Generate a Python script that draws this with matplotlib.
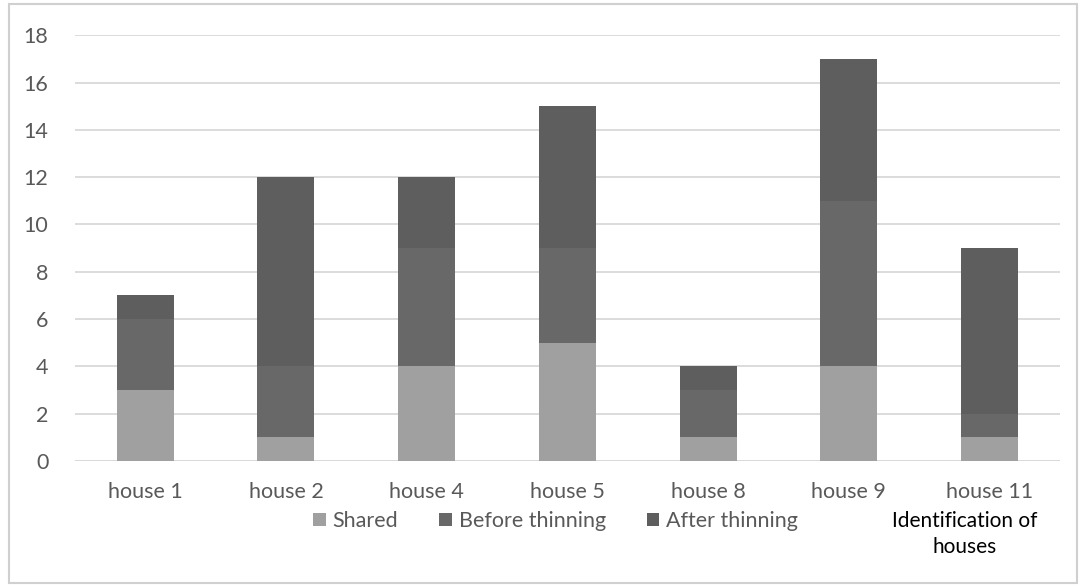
import matplotlib

matplotlib.use("Agg")

import matplotlib.pyplot as plt
from matplotlib.patches import Rectangle

# Stacked counts per house
houses = ["house 1", "house 2", "house 4", "house 5", "house 8", "house 9", "house 11"]
shared = [3, 1, 4, 5, 1, 4, 1]
before_thinning = [3, 3, 5, 4, 2, 7, 1]
after_thinning = [1, 8, 3, 6, 1, 6, 7]

series_names = ["Shared", "Before thinning", "After thinning"]
series_colors = ["#a0a0a0", "#686868", "#5e5e5e"]
y_ticks = list(range(0, 19, 2))

TEXT_GRAY = "#595959"
GRID_GRAY = "#d9d9d9"

plt.rcParams["font.family"] = ["Lato", "DejaVu Sans"]

fig = plt.figure(figsize=(10.85, 5.88), dpi=100)
ax = fig.add_axes([0.069, 0.216, 0.908, 0.724])

x = list(range(len(houses)))
bottom = [0] * len(houses)
handles = []
for name, values, color in zip(series_names, [shared, before_thinning, after_thinning], series_colors):
    bars = ax.bar(x, values, width=0.405, bottom=bottom, color=color, label=name, zorder=3)
    handles.append(bars)
    bottom = [b + v for b, v in zip(bottom, values)]

ax.set_xlim(-0.5, len(houses) - 0.5)
ax.set_ylim(0, 18)
ax.set_yticks(y_ticks)
ax.set_xticks(x)
ax.set_xticklabels(houses)
ax.tick_params(axis="both", length=0, labelsize=15.5, labelcolor=TEXT_GRAY)
ax.tick_params(axis="y", pad=19)
ax.tick_params(axis="x", pad=15)
ax.yaxis.grid(True, color=GRID_GRAY, linewidth=1.3, zorder=0)
for spine in ax.spines.values():
    spine.set_visible(False)
ax.axhline(0, color=GRID_GRAY, linewidth=1.3, zorder=2)

fig.legend(
    handles=handles,
    labels=series_names,
    loc="center",
    bbox_to_anchor=(0.512, 0.114),
    ncol=3,
    frameon=False,
    fontsize=15.5,
    labelcolor=TEXT_GRAY,
    handlelength=0.6,
    handleheight=0.6,
    handletextpad=0.3,
    columnspacing=1.9,
)

fig.text(0.889, 0.092, "Identification of\nhouses", ha="center", va="center",
         fontsize=15, color="black", linespacing=1.35)

# light frame around the whole chart
fig.patches.append(Rectangle((0.008, 0.008), 0.985, 0.985, transform=fig.transFigure,
                             fill=False, edgecolor="#d0d0d0", linewidth=1.5))

fig.savefig("out.png", dpi=100)
